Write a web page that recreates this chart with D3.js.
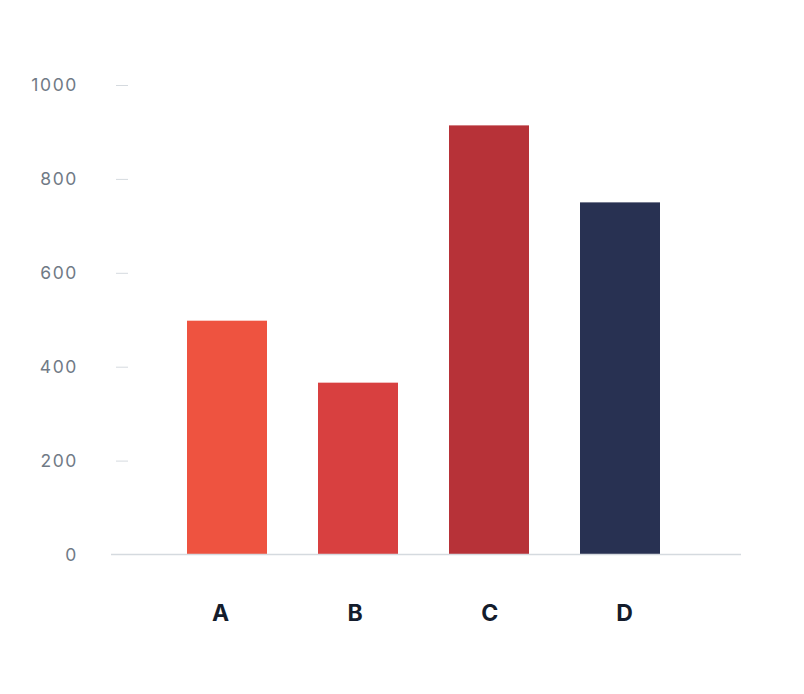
<!DOCTYPE html>
<html>
<head>
<meta charset="utf-8">
<script src="https://cdn.jsdelivr.net/npm/d3@7"></script>
<style>
html,body{margin:0;padding:0;background:#fff;}
svg{display:block;}
</style>
</head>
<body>
<svg id="chart" width="804" height="694"></svg>
<script>
const categories = ["A", "B", "C", "D"];
const values = [498, 366, 914, 750];
const barColors = ["#ee5340", "#d84040", "#b73238", "#283152"];
const yTicks = [0, 200, 400, 600, 800, 1000];

const svg = d3.select("#chart");
const font = "Inter, 'Noto Sans', sans-serif";

const y = d3.scaleLinear().domain([0, 1000]).range([554.5, 85]);
const x = d3.scaleBand().domain(categories)
  .range([121.5, 725.5]).paddingInner(0.3893).paddingOuter(0.5);
const xLabel = d3.scalePoint().domain(categories).range([220, 624]);

// y axis
const yAxis = d3.axisLeft(y).tickValues(yTicks).tickSize(12).tickPadding(38).tickFormat(d3.format("d"));
const gy = svg.append("g").attr("transform", "translate(128,0)").call(yAxis);
gy.select(".domain").remove();
gy.selectAll(".tick line").attr("stroke", "#d5dadf").attr("stroke-width", 1);
gy.selectAll(".tick text").attr("fill", "#707a86").attr("font-size", 17.5)
  .attr("letter-spacing", "1.6px").attr("font-family", font);
gy.selectAll(".tick").filter(d => d === 0).select("line").remove();

// bars
svg.append("g").selectAll("rect").data(values).join("rect")
  .attr("x", (d, i) => x(categories[i]))
  .attr("width", x.bandwidth())
  .attr("y", d => y(d))
  .attr("height", d => y(0) - y(d))
  .attr("fill", (d, i) => barColors[i]);

// baseline
svg.append("line").attr("x1", 111).attr("x2", 741).attr("y1", y(0)).attr("y2", y(0))
  .attr("stroke", "#d5dadf").attr("stroke-width", 1.5);

// x axis labels
const xAxis = d3.axisBottom(xLabel).tickSize(0).tickPadding(0);
const gx = svg.append("g").attr("transform", `translate(0,${y(0)})`).call(xAxis);
gx.select(".domain").remove();
gx.selectAll(".tick text").attr("y", 66).attr("dy", 0).attr("fill", "#141c2c")
  .attr("font-size", 23).attr("font-weight", "bold").attr("font-family", font);
</script>
</body>
</html>
